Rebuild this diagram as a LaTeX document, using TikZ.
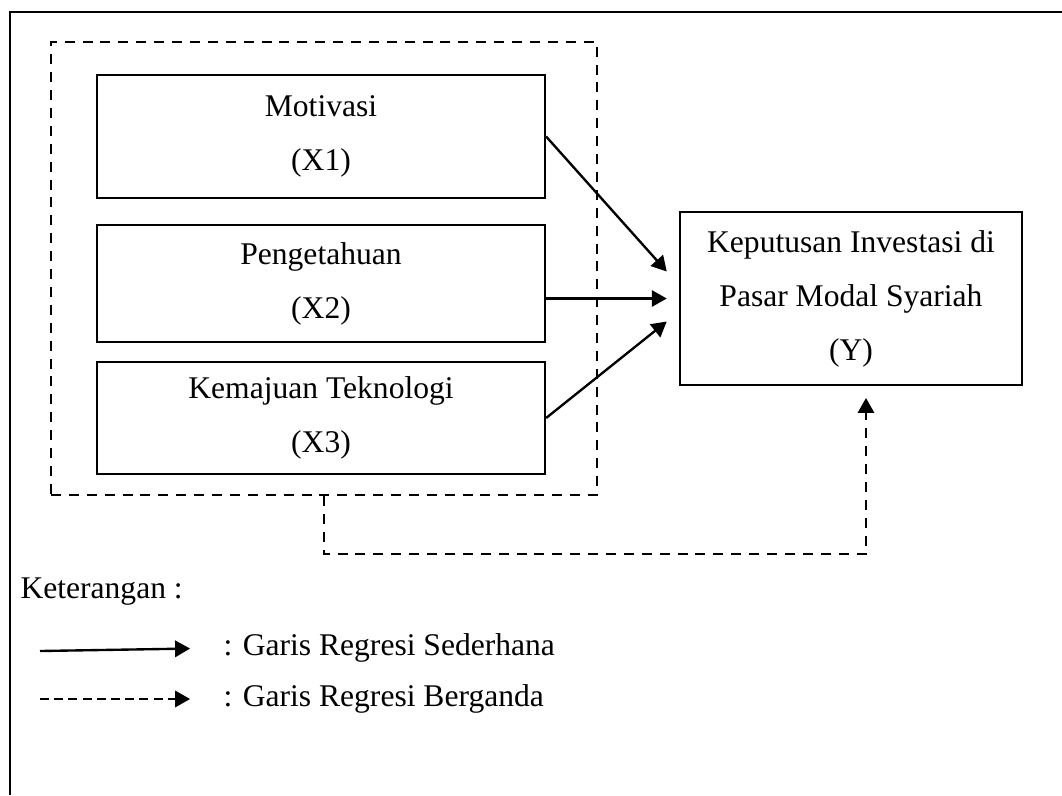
\documentclass[tikz,border=0pt]{standalone}
\usepackage{fontspec}
\setmainfont{Liberation Serif}
\usetikzlibrary{arrows.meta,calc}

\begin{document}
\begin{tikzpicture}[x=0.38pt, y=-0.38pt,
		font=\fontsize{12}{20.5}\selectfont,
		varbox/.style={draw, line width=0.9pt, align=center, inner sep=0pt},
		groupbox/.style={draw, line width=0.9pt, dash pattern=on 3.8pt off 3pt},
		arr/.style={line width=0.9pt, -{Triangle[length=5.7pt, width=6.2pt]}},
		dasharr/.style={arr, dash pattern=on 3.8pt off 3pt},
		legtext/.style={anchor=west, inner sep=0pt}]
		\useasboundingbox (0,0) rectangle (1062,795);
		
		% Draw the outer frame
		\draw[line width=0.9pt] (10,795) -- (10,12) -- (1062,12);
		
		% Draw the dashed group box
		\node[groupbox, minimum width=207.5pt, minimum height=172pt] (grp) at (324,268.5) {};
		
		% Draw the independent variables
		\foreach \name/\y/\h/\txt in {x1/136.5/46.7pt/{Motivasi\\(X1)},
			x2/283.5/44.5pt/{Pengetahuan\\(X2)},
			x3/418/42.6pt/{Kemajuan Teknologi\\(X3)}} {
			\node[varbox, minimum width=170.2pt, minimum height=\h] (\name) at (321,\y) {\txt};
		}
		
		% Draw the dependent variable
		\node[varbox, minimum width=130pt, minimum height=65.7pt] (y) at (851,298.5)
		{Keputusan Investasi di\\Pasar Modal Syariah\\(Y)};
		
		% Simple regression arrows
		\draw[arr] (x1.east) -- ($(y.west)+(-12,-27)$);
		\draw[arr] (x2.east |- y.west) -- ($(y.west)+(-12,0)$);
		\draw[arr] (x3.east) -- ($(y.west)+(-12,23)$);
		
		% Multiple regression arrow
		\draw[dasharr, shorten >=4.5pt] (grp.south) -- ++(0,58) -| ($(y.south)+(15,0)$);
		
		% Legend
		\node[legtext] (ket) at (20,592) {Keterangan :};
		\node[legtext] (lsimple) at (223,648) {: Garis Regresi Sederhana};
		\node[legtext] (lmulti) at (223,699) {: Garis Regresi Berganda};
		\coordinate (s0) at (40,651);
		\coordinate (m0) at (40,699);
		\draw[arr, shorten >=12.5pt] (s0) -- (lsimple.west);
		\draw[dasharr, dash pattern=on 3.4pt off 2pt, shorten >=12.5pt] (m0) -- (lmulti.west);
	\end{tikzpicture}
\end{document}
